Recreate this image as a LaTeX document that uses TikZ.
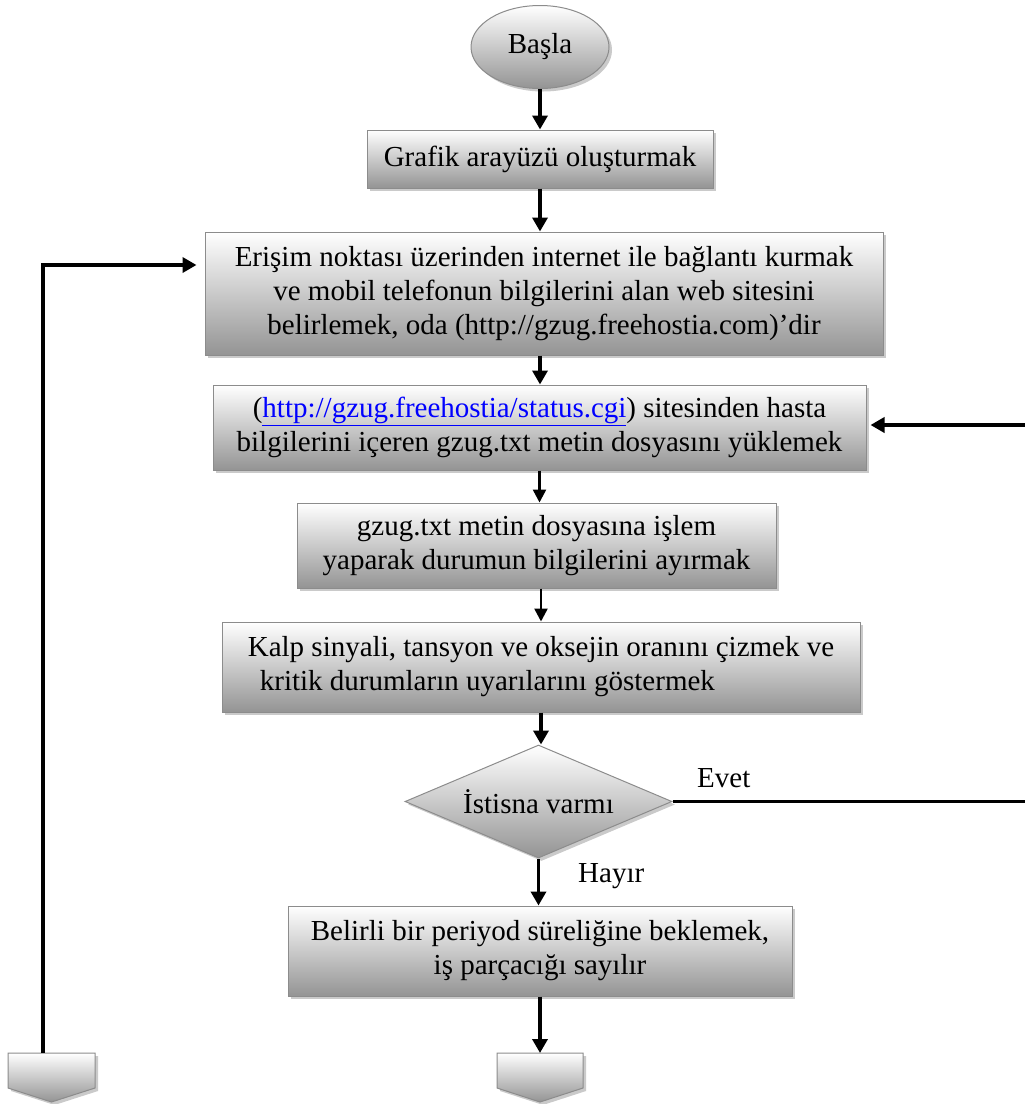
\documentclass[tikz,border=0pt]{standalone}
\usepackage{fontspec}
\setmainfont{Liberation Serif}
\usetikzlibrary{shapes.geometric,arrows.meta,shadows}
\begin{document}
\begin{tikzpicture}[x=1pt,y=-1pt,
  txt/.style={font=\fontsize{29}{34}\selectfont},
  shade3d/.style={draw=black!45, line width=1pt, top color=white, bottom color=black!42,
    drop shadow={shadow xshift=3pt,shadow yshift=-3pt,fill=black!35,opacity=0.6}},
  box/.style={shade3d, txt, rectangle, align=center, inner sep=0pt},
  arr/.style={line width=3.5pt, -{Triangle[length=14pt,width=15pt]}},
  arrthin/.style={line width=2.5pt, -{Triangle[length=13pt,width=13pt]}},
  lbl/.style={txt, anchor=west, inner sep=0pt}]
\useasboundingbox (0,0) rectangle (1025,1104);

% start terminal
\node[shade3d, txt, ellipse, minimum width=138pt, minimum height=83pt, inner sep=0pt] (start) at (540,47) {Başla};

% process steps
\node[box, minimum width=346pt, minimum height=58pt] (gui) at (540,159) {Grafik arayüzü oluşturmak};
\node[box, minimum width=678pt, minimum height=123pt] (conn) at (544,293.5)
  {Erişim noktası üzerinden internet ile bağlantı kurmak\\
   ve mobil telefonun bilgilerini alan web sitesini\\
   belirlemek, oda (http://gzug.freehostia.com)’dir};
\node[box, minimum width=653pt, minimum height=85pt] (load) at (539.5,427.5)
  {({\color{blue}\underline{http://gzug.freehostia/status.cgi}}) sitesinden hasta\\
   bilgilerini içeren gzug.txt metin dosyasını yüklemek};
\node[box, minimum width=479pt, minimum height=85pt] (parse) at (536.5,545.5)
  {gzug.txt metin dosyasına işlem\\
   yaparak durumun bilgilerini ayırmak};
\node[box, minimum width=638pt, minimum height=90pt, align=left] (plot) at (541,667)
  {Kalp sinyali, tansyon ve oksejin oranını çizmek ve\\
   \hspace*{12pt}kritik durumların uyarılarını göstermek};

% decision
\node[shade3d, txt, diamond, aspect=2.36, minimum width=267pt, minimum height=113pt, inner sep=0pt] (exc) at (538.5,801.5) {İstisna varmı};

\node[box, minimum width=504pt, minimum height=90pt] (wait) at (540,951)
  {Belirli bir periyod süreliğine beklemek,\\
   iş parçacığı sayılır};

% off-page connectors
\path[shade3d] (8,1053) -- (95,1053) -- (95,1088) -- (51.5,1102) -- (8,1088) -- cycle;
\path[shade3d] (497,1053) -- (583,1053) -- (583,1088) -- (540,1102) -- (497,1088) -- cycle;
\coordinate (offL) at (43,1053);
\coordinate (offC) at (540,1053);

% edge coordinates on the right margin
\coordinate (rYes) at (1025,801.5);
\coordinate (rIn) at (1025,425);

% labels
\node[lbl] (yes) at (697,778) {Evet};
\node[lbl] (no) at (578,876) {Hayır};

% main flow
\draw[arr] (start.south) -- (start.south |- gui.north);
\draw[arr] (gui.south) -- (gui.south |- conn.north);
\draw[arr] ([xshift=-4pt]conn.south) -- ([xshift=-4pt]conn.south |- load.north);
\draw[arrthin] (load.south) -- (load.south |- parse.north);
\draw[arrthin] (parse.south -| plot.south) -- (plot.north);
\draw[arr] (plot.south) -- (plot.south |- exc.north);
\draw[arr] (exc.south) -- (exc.south |- wait.north);
\draw[arr] (wait.south) -- (offC);

% loops
\draw[arr, line cap=butt] (offL) |- ([yshift=28.5pt,xshift=-8pt]conn.west);
\draw[line width=3.5pt] (exc.east) -- (rYes);
\draw[arr] (rIn) -- ([xshift=4pt]rIn -| load.east);
\end{tikzpicture}
\end{document}
